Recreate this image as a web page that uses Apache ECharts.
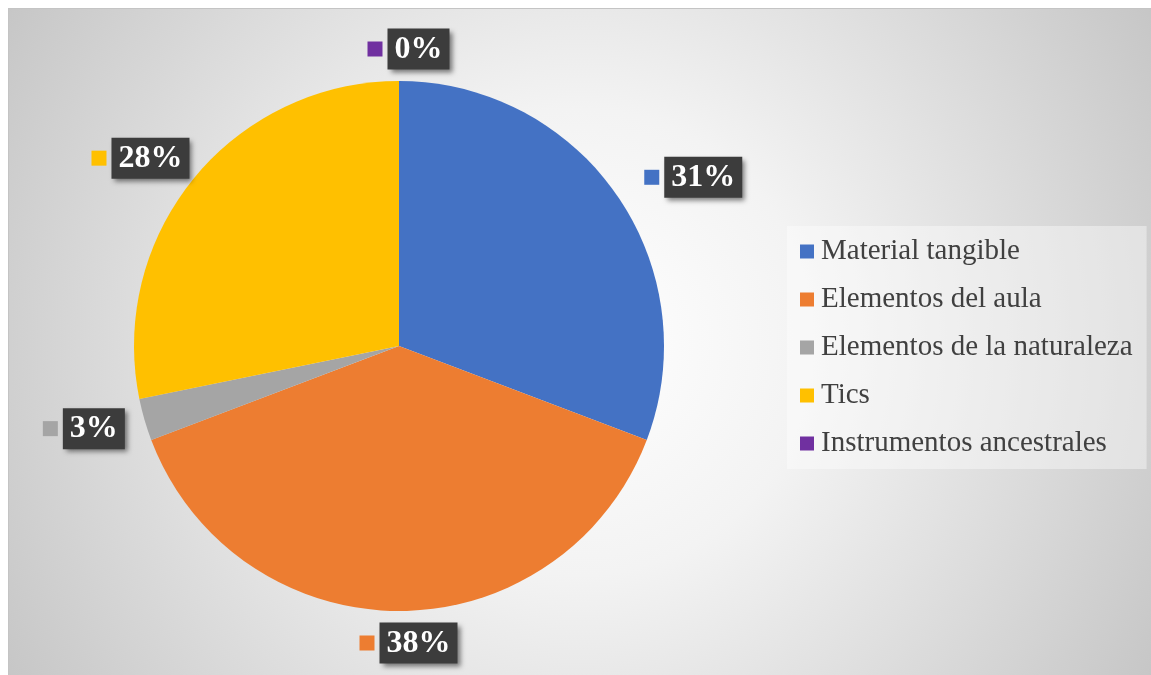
<!DOCTYPE html>
<html>
<head>
<meta charset="utf-8">
<title>Recursos didácticos</title>
<script src="https://cdn.jsdelivr.net/npm/echarts@6/dist/echarts.min.js"></script>
<style>
  html, body { margin: 0; padding: 0; background: #ffffff; }
  #chart {
    position: absolute; left: 8px; top: 8px;
    width: 1143px; height: 667px;
    border-top: 1px solid #c4c4c4; border-left: 1px solid #c4c4c4;
    box-sizing: border-box;
  }
</style>
</head>
<body>
<div id="chart"></div>
<script>
// Categories and counts per resource type
const categories = [
  'Material tangible',
  'Elementos del aula',
  'Elementos de la naturaleza',
  'Tics',
  'Instrumentos ancestrales'
];
const counts = [12, 15, 1, 11, 0];
const colors = ['#4472C4', '#ED7D31', '#A5A5A5', '#FFC000', '#7030A0'];

const total = counts.reduce((a, b) => a + b, 0);
const pieCenter = [390, 337];
const pieRadius = 265;

const rich = {
  sp: { width: 5, height: 15 },
  v: {
    fontSize: 32, fontWeight: 'bold', fontFamily: 'Liberation Serif',
    color: '#ffffff', lineHeight: 34, padding: [5, 7, 4, 7],
    backgroundColor: '#3c3c3c',
    shadowColor: 'rgba(0,0,0,0.5)', shadowBlur: 5,
    shadowOffsetX: 3, shadowOffsetY: 3
  }
};
colors.forEach((c, i) => {
  rich['k' + i] = { width: 15, height: 15, backgroundColor: c };
});

// Mid angle of each slice, clockwise from 12 o'clock
function midAngle(idx) {
  let before = 0;
  for (let i = 0; i < idx; i++) before += counts[i];
  return ((before + counts[idx] / 2) / total) * Math.PI * 2;
}

const chart = echarts.init(document.getElementById('chart'), null, { renderer: 'canvas' });

chart.setOption({
  animation: false,
  backgroundColor: {
    type: 'radial', x: 0.5, y: 0.5, r: 1.0,
    colorStops: [
      { offset: 0, color: '#ffffff' },
      { offset: 0.35, color: '#f3f3f3' },
      { offset: 1, color: '#c6c6c6' }
    ]
  },
  textStyle: { fontFamily: 'Liberation Serif' },
  legend: {
    orient: 'vertical',
    left: 778, top: 217,
    padding: [11, 14, 11, 13],
    backgroundColor: 'rgba(255,255,255,0.4)',
    itemWidth: 14, itemHeight: 14, itemGap: 19,
    icon: 'rect',
    selectedMode: false,
    textStyle: {
      fontSize: 29, lineHeight: 29, color: '#404040',
      fontFamily: 'Liberation Serif', padding: [0, 0, 0, 2]
    },
    data: categories
  },
  series: [{
    type: 'pie',
    center: pieCenter,
    radius: pieRadius,
    startAngle: 90,
    clockwise: true,
    avoidLabelOverlap: false,
    stillShowZeroSum: true,
    emphasis: { disabled: true },
    itemStyle: { borderWidth: 0 },
    label: {
      show: true,
      position: 'outside',
      formatter: (p) => {
        const pct = Math.round(p.value / total * 100);
        return '{k' + p.dataIndex + '|}{sp|}{v|' + pct + '%}';
      },
      rich: rich
    },
    labelLine: { show: false },
    // Text box sits just outside the rim, pushed outward by half its width;
    // the colour key hangs off its left side.
    labelLayout: (params) => {
      const a = midAngle(params.dataIndex);
      const dx = Math.sin(a), dy = -Math.cos(a);
      const w = params.labelRect.width;
      const reach = pieRadius + 32;
      return {
        x: pieCenter[0] + dx * reach + dx * w / 2 + 9.5,
        y: pieCenter[1] + dy * reach,
        align: 'center',
        verticalAlign: 'middle'
      };
    },
    data: categories.map((name, i) => ({
      name: name,
      value: counts[i],
      itemStyle: { color: colors[i] }
    }))
  }]
});
</script>
</body>
</html>
